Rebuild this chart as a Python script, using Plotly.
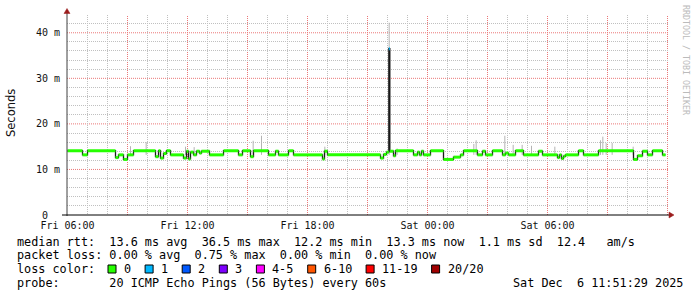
import plotly.graph_objects as go

# ---------------- data ----------------
# median rtt (ms): step runs, start time and value
med_t = ["2025-12-05 06:00", "2025-12-05 06:45", "2025-12-05 07:00", "2025-12-05 08:24",
         "2025-12-05 08:33", "2025-12-05 08:48", "2025-12-05 09:00", "2025-12-05 09:18",
         "2025-12-05 10:24", "2025-12-05 10:33", "2025-12-05 10:39", "2025-12-05 10:48",
         "2025-12-05 10:57", "2025-12-05 11:09", "2025-12-05 11:48", "2025-12-05 11:57",
         "2025-12-05 12:03", "2025-12-05 12:09", "2025-12-05 12:18", "2025-12-05 12:27",
         "2025-12-05 12:36", "2025-12-05 12:42", "2025-12-05 13:06", "2025-12-05 13:48",
         "2025-12-05 14:33", "2025-12-05 14:45", "2025-12-05 15:09", "2025-12-05 15:18",
         "2025-12-05 16:03", "2025-12-05 16:24", "2025-12-05 16:33", "2025-12-05 17:03",
         "2025-12-05 17:18", "2025-12-05 18:45", "2025-12-05 18:51", "2025-12-05 19:00",
         "2025-12-05 21:39", "2025-12-05 21:48", "2025-12-05 21:57", "2025-12-05 22:04",
         "2025-12-05 22:07", "2025-12-05 22:18", "2025-12-05 22:24", "2025-12-05 23:18",
         "2025-12-05 23:30", "2025-12-05 23:36", "2025-12-05 23:42", "2025-12-05 23:48",
         "2025-12-06 00:09", "2025-12-06 00:48", "2025-12-06 01:18", "2025-12-06 01:39",
         "2025-12-06 01:48", "2025-12-06 02:30", "2025-12-06 02:45", "2025-12-06 02:54",
         "2025-12-06 03:15", "2025-12-06 03:45", "2025-12-06 03:54", "2025-12-06 04:03",
         "2025-12-06 04:24", "2025-12-06 04:48", "2025-12-06 05:33", "2025-12-06 05:45",
         "2025-12-06 06:30", "2025-12-06 06:36", "2025-12-06 06:42", "2025-12-06 06:48",
         "2025-12-06 06:54", "2025-12-06 07:33", "2025-12-06 07:48", "2025-12-06 08:33",
         "2025-12-06 10:18", "2025-12-06 10:30", "2025-12-06 10:45", "2025-12-06 11:00",
         "2025-12-06 11:15", "2025-12-06 11:45"]
med_v = [14.1, 13.2, 14.1, 12.6,
         13.2, 12.2, 13.2, 14.1,
         12.8, 14.1, 12.5, 13.5,
         14.1, 13.2, 12.5, 14.0,
         12.3, 13.8, 13.2, 14.0,
         13.6, 14.0, 13.2, 14.1,
         13.2, 14.1, 12.8, 14.1,
         13.2, 14.0, 13.2, 14.1,
         13.2, 12.3, 14.0, 13.2,
         12.5, 13.3, 13.8, 36.5,
         14.0, 13.0, 14.1, 13.2,
         13.8, 13.2, 14.0, 13.2,
         14.1, 12.2, 12.7, 13.2,
         14.1, 13.2, 14.0, 13.2,
         14.1, 13.2, 13.6, 13.2,
         14.1, 13.2, 14.0, 13.2,
         12.6, 13.2, 12.4, 12.9,
         13.2, 14.1, 13.2, 14.1,
         12.2, 13.0, 14.0, 13.2,
         14.1, 13.2]
med_end = "2025-12-06 11:54"
# packet loss (of 20) for each run
med_loss = [0] * 39 + [1] + [0] * 38

# smoke (ping spread) peaks
smoke_t = ["2025-12-05 09:09", "2025-12-05 09:56", "2025-12-05 11:54", "2025-12-05 12:20",
           "2025-12-05 15:17", "2025-12-05 15:42", "2025-12-05 18:52", "2025-12-05 22:05",
           "2025-12-05 22:29", "2025-12-06 02:19", "2025-12-06 02:26", "2025-12-06 03:52",
           "2025-12-06 04:17", "2025-12-06 04:44", "2025-12-06 05:12", "2025-12-06 06:22",
           "2025-12-06 08:39", "2025-12-06 08:46", "2025-12-06 08:56", "2025-12-06 09:14",
           "2025-12-06 10:17"]
smoke_top = [15.1, 16.0, 15.0, 14.9,
             16.3, 17.4, 15.0, 42.2,
             14.6, 15.6, 16.4, 17.4,
             15.4, 15.4, 15.2, 15.0,
             16.4, 17.2, 15.8, 15.8,
             15.0]
smoke_base = 13.2

x_range = ["2025-12-05 05:58:30", "2025-12-06 12:01:30"]
x_major = ["2025-12-05 06:00", "2025-12-05 09:00", "2025-12-05 12:00", "2025-12-05 15:00",
           "2025-12-05 18:00", "2025-12-05 21:00", "2025-12-06 00:00", "2025-12-06 03:00",
           "2025-12-06 06:00", "2025-12-06 09:00", "2025-12-06 12:00"]
x_labels = ["Fri 06:00", "", "Fri 12:00", "", "Fri 18:00", "", "Sat 00:00", "", "Sat 06:00", "", ""]
x_minor = ["2025-12-05 07:00", "2025-12-05 08:00", "2025-12-05 10:00", "2025-12-05 11:00",
           "2025-12-05 13:00", "2025-12-05 14:00", "2025-12-05 16:00", "2025-12-05 17:00",
           "2025-12-05 19:00", "2025-12-05 20:00", "2025-12-05 22:00", "2025-12-05 23:00",
           "2025-12-06 01:00", "2025-12-06 02:00", "2025-12-06 04:00", "2025-12-06 05:00",
           "2025-12-06 07:00", "2025-12-06 08:00", "2025-12-06 10:00", "2025-12-06 11:00"]
y_ticks = [0, 10, 20, 30, 40]
y_labels = ["0\u00a0\u00a0", "10 m", "20 m", "30 m", "40 m"]
y_minor = [2, 4, 6, 8, 12, 14, 16, 18, 22, 24, 26, 28, 32, 34, 36, 38, 42]

loss_labels = ["0", "1", "2", "3", "4-5", "6-10", "11-19", "20/20"]
loss_colors = ["#26ff00", "#00b8ff", "#0059ff", "#7e00ff", "#ff00ff", "#ff5500", "#ff0000", "#a10000"]

row1 = "median rtt:  13.6 ms avg  36.5 ms max  12.2 ms min  13.3 ms now  1.1 ms sd  12.4   am/s"
row2 = "packet loss: 0.00 % avg  0.75 % max  0.00 % min  0.00 % now"
row3 = "loss color:"
row4 = "probe:       20 ICMP Echo Pings (56 Bytes) every 60s"
stamp = "Sat Dec  6 11:51:29 2025"

# ---------------- layout helpers (pixel -> paper) ----------------
W, H = 697, 297
PL, PR, PT, PB = 67, 668, 15, 215


def px(x):
    return (x - PL) / (PR - PL)


def py(y):
    return (PB - y) / (PB - PT)


MONO = "DejaVu Sans Mono"
fig = go.Figure()

# smoke
sx, sy = [], []
for t, top in zip(smoke_t, smoke_top):
    sx += [t, t, None]
    sy += [smoke_base, top, None]
fig.add_trace(go.Scatter(x=sx, y=sy, mode="lines", line=dict(color="#b4b4b4", width=1),
                         hoverinfo="skip", showlegend=False))

# median step line (dark)
fig.add_trace(go.Scatter(x=med_t + [med_end], y=med_v + [med_v[-1]], mode="lines",
                         line=dict(color="#1a1a1a", width=1.3, shape="hv"),
                         hoverinfo="skip", showlegend=False))

# coloured median by loss bucket
for b, col in enumerate(loss_colors):
    gx, gy = [], []
    ends = med_t[1:] + [med_end]
    for t0, t1, v, l in zip(med_t, ends, med_v, med_loss):
        if l == b:
            gx += [t0, t1, None]
            gy += [v, v, None]
    if gx:
        fig.add_trace(go.Scatter(x=gx, y=gy, mode="lines", line=dict(color=col, width=3),
                                 hoverinfo="skip", showlegend=False))

grid_red = "rgb(235,120,120)"
grid_gray = "#c0c0c0"
DASH = "1px,1px"

fig.update_xaxes(type="date", range=x_range, tickmode="array", tickvals=x_major, ticktext=x_labels,
                 showgrid=False,
                 minor=dict(tickmode="array", tickvals=x_minor,
                            showgrid=True, gridcolor=grid_gray, griddash=DASH, gridwidth=1),
                 ticks="", zeroline=False, showline=False,
                 tickfont=dict(family=MONO, size=10, color="#111"), ticklabelstandoff=3)
fig.update_yaxes(range=[0, 43.9], tickmode="array", tickvals=y_ticks, ticktext=y_labels,
                 showgrid=False,
                 minor=dict(tickmode="array", tickvals=y_minor,
                            showgrid=True, gridcolor=grid_gray, griddash=DASH, gridwidth=1),
                 ticks="", zeroline=False, showline=False,
                 tickfont=dict(family=MONO, size=10, color="#111"), ticklabelstandoff=6)

shapes = []
# major (red) grid
for t in x_major[1:]:
    shapes.append(dict(type="line", xref="x", yref="paper", x0=t, x1=t, y0=0, y1=1, layer="below",
                       line=dict(color=grid_red, width=1, dash=DASH)))
for v in y_ticks[1:]:
    shapes.append(dict(type="line", xref="paper", yref="y", x0=0, x1=1, y0=v, y1=v, layer="below",
                       line=dict(color=grid_red, width=1, dash=DASH)))

shapes += [
    dict(type="line", xref="paper", yref="paper", x0=px(67), x1=px(67), y0=py(216), y1=py(11),
         line=dict(color="#404040", width=1)),
    dict(type="line", xref="paper", yref="paper", x0=px(62), x1=px(670), y0=py(215), y1=py(215),
         line=dict(color="#000000", width=1)),
    dict(type="path", xref="paper", yref="paper",
         path=f"M {px(67)},{py(8.5)} L {px(70)},{py(13.5)} L {px(64)},{py(13.5)} Z",
         fillcolor="#9b1c1c", line=dict(color="#9b1c1c", width=0.5)),
    dict(type="path", xref="paper", yref="paper",
         path=f"M {px(674)},{py(215)} L {px(669)},{py(212)} L {px(669)},{py(218)} Z",
         fillcolor="#9b1c1c", line=dict(color="#9b1c1c", width=0.5)),
]

annotations = [
    dict(text="Seconds", xref="paper", yref="paper", x=px(10.5), y=py(113.5), textangle=-90,
         showarrow=False, font=dict(family="DejaVu Sans", size=11.5, color="#111"),
         xanchor="center", yanchor="middle"),
    dict(text="RRDTOOL / TOBI OETIKER", xref="paper", yref="paper", x=px(686), y=py(60),
         textangle=90, showarrow=False, font=dict(family=MONO, size=8.3, color="#bbbbbb"),
         xanchor="center", yanchor="middle"),
]
CW = 7.1
FS = 11.8
for txt, yc in [(row1, 241.5), (row2, 255), (row3, 269), (row4, 283)]:
    annotations.append(dict(text=txt.replace(" ", "\u00a0"), xref="paper", yref="paper",
                            x=px(15), y=py(yc), showarrow=False, xanchor="left", yanchor="middle",
                            font=dict(family=MONO, size=FS, color="#000")))
annotations.append(dict(text=stamp.replace(" ", "\u00a0"), xref="paper", yref="paper",
                        x=px(511), y=py(283), showarrow=False, xanchor="left", yanchor="middle",
                        font=dict(family=MONO, size=FS, color="#000")))

sq = 108.0
for lab, col in zip(loss_labels, loss_colors):
    shapes.append(dict(type="rect", xref="paper", yref="paper", x0=px(sq), x1=px(sq + 8),
                       y0=py(273), y1=py(265), fillcolor=col, line=dict(color="#000", width=1)))
    annotations.append(dict(text=lab, xref="paper", yref="paper", x=px(sq + 14), y=py(269),
                            showarrow=False, xanchor="left", yanchor="middle",
                            font=dict(family=MONO, size=FS, color="#000")))
    sq += 30 + CW * len(lab)

fig.update_layout(width=W, height=H, margin=dict(l=PL, r=W - PR, t=PT, b=H - PB),
                  paper_bgcolor="white", plot_bgcolor="white", shapes=shapes,
                  annotations=annotations, showlegend=False)

fig.write_html("out.html")
